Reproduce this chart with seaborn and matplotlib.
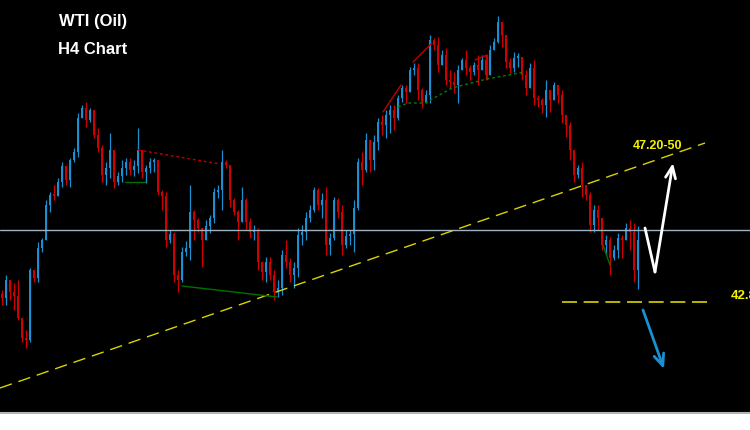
import numpy as np
import matplotlib
matplotlib.use('Agg')
import matplotlib.pyplot as plt
import pandas as pd
import seaborn as sns

# WTI H4 candles (oldest -> newest)
highs = [43.16, 43.61, 43.31, 43.37, 43.46, 42.32, 41.96, 43.82, 43.76, 44.60,
         44.72, 45.86, 46.10, 46.31, 46.52, 47.00, 46.85, 47.12, 47.42, 48.47,
         48.71, 48.80, 48.62, 48.20, 48.02, 47.51, 47.00, 47.87, 47.30, 46.70,
         47.06, 47.12, 47.12, 47.06, 48.02, 47.36, 46.91, 47.12, 47.12, 47.00,
         46.16, 46.10, 44.96, 44.90, 43.76, 44.45, 44.63, 46.31, 45.56, 45.32,
         45.02, 45.26, 45.41, 46.22, 46.31, 47.36, 47.06, 46.91, 45.92, 45.56,
         46.25, 45.92, 45.32, 45.11, 45.02, 44.00, 44.15, 44.15, 43.76, 43.46,
         44.36, 44.66, 44.12, 44.00, 45.02, 45.11, 45.50, 45.71, 46.25, 46.22,
         46.07, 46.25, 44.87, 45.95, 45.92, 45.71, 44.96, 44.96, 45.86, 47.12,
         47.30, 47.87, 47.66, 47.81, 48.32, 48.41, 48.56, 48.71, 48.71, 49.01,
         49.31, 49.31, 49.85, 49.97, 49.97, 49.22, 49.16, 50.81, 50.72, 50.75,
         50.36, 50.42, 49.76, 49.70, 49.91, 50.12, 50.36, 49.91, 50.00, 50.21,
         50.21, 50.21, 50.51, 50.72, 51.38, 51.02, 50.60, 50.12, 50.30, 50.27,
         50.06, 49.76, 49.97, 50.06, 49.01, 48.92, 49.46, 49.16, 49.40, 49.31,
         49.16, 48.32, 48.20, 47.21, 46.91, 47.00, 46.31, 46.10, 45.71, 45.71,
         44.96, 44.81, 44.75, 44.51, 44.87, 44.81, 45.17, 45.26, 45.17, 45.08]
lows = [42.71, 42.71, 42.86, 42.56, 42.26, 41.60, 41.42, 41.60, 43.40, 43.40,
        44.30, 44.96, 45.50, 45.86, 46.01, 46.25, 46.31, 46.25, 47.00, 47.15,
        48.32, 48.05, 48.20, 47.72, 47.30, 46.40, 46.31, 46.52, 46.22, 46.31,
        46.40, 46.61, 46.61, 46.58, 46.67, 46.52, 46.37, 46.67, 46.70, 46.01,
        45.56, 44.45, 44.57, 43.40, 43.10, 43.40, 44.18, 44.06, 44.66, 44.90,
        43.85, 44.66, 44.87, 45.17, 45.92, 45.56, 46.82, 45.65, 45.41, 44.66,
        45.20, 44.96, 44.72, 44.66, 43.76, 43.46, 43.40, 43.46, 42.86, 42.95,
        43.01, 43.82, 43.40, 43.22, 43.55, 44.51, 44.66, 45.20, 45.50, 45.56,
        45.32, 44.21, 44.21, 44.66, 45.32, 44.21, 44.42, 44.51, 44.30, 45.56,
        46.31, 46.70, 46.70, 46.76, 47.36, 47.81, 47.72, 47.87, 47.96, 48.26,
        48.80, 48.77, 49.16, 49.61, 48.86, 48.62, 48.77, 48.77, 50.36, 49.70,
        49.91, 49.31, 49.22, 49.07, 48.77, 49.76, 49.61, 49.46, 49.61, 49.31,
        49.76, 49.46, 49.82, 50.36, 50.57, 50.45, 49.82, 49.67, 49.70, 49.85,
        49.46, 49.01, 49.31, 48.71, 48.65, 48.47, 48.35, 48.50, 48.86, 48.77,
        48.17, 47.75, 47.06, 46.40, 46.52, 45.95, 45.86, 44.90, 44.90, 44.96,
        44.36, 44.21, 43.61, 44.06, 44.12, 44.12, 44.66, 44.36, 43.40, 43.19]
closes = [42.92, 43.46, 43.10, 42.98, 42.32, 41.72, 41.66, 43.76, 43.52, 44.42,
          44.66, 45.71, 46.01, 45.98, 46.40, 46.88, 46.46, 47.06, 47.30, 48.32,
          48.62, 48.26, 48.56, 47.81, 47.42, 46.61, 46.82, 47.36, 46.40, 46.58,
          46.82, 47.00, 46.76, 46.88, 47.36, 46.70, 46.82, 47.00, 47.06, 46.10,
          45.98, 44.66, 44.84, 43.61, 43.46, 44.30, 44.42, 45.50, 45.26, 45.02,
          44.66, 45.08, 45.32, 46.10, 46.16, 47.00, 46.91, 45.86, 45.50, 45.20,
          45.86, 45.20, 44.90, 44.96, 44.00, 43.70, 44.00, 43.61, 43.10, 43.22,
          44.21, 44.00, 43.61, 43.82, 44.81, 44.90, 45.32, 45.56, 46.16, 45.71,
          45.86, 44.51, 44.72, 45.86, 45.50, 44.51, 44.78, 44.84, 45.62, 47.00,
          46.76, 47.66, 47.06, 47.60, 48.20, 48.11, 48.41, 48.56, 48.32, 48.92,
          49.22, 49.10, 49.76, 49.82, 49.16, 48.80, 49.01, 50.66, 50.51, 49.91,
          50.21, 49.46, 49.40, 49.31, 49.76, 50.06, 49.82, 49.70, 49.91, 49.76,
          50.06, 49.61, 50.36, 50.60, 51.20, 50.81, 50.00, 49.82, 50.12, 50.15,
          49.61, 49.22, 49.82, 48.92, 48.86, 48.71, 49.16, 48.86, 49.31, 49.01,
          48.41, 48.11, 47.36, 46.61, 46.82, 46.31, 46.01, 45.11, 45.56, 45.32,
          44.51, 44.66, 44.12, 44.36, 44.72, 44.66, 45.02, 44.90, 43.76, 44.66]
first_open = 43.05

# drawn objects (x = candle index, y = price)
trend_x = [-0.5, 175.75]
trend_y = [40.22, 47.57]
pivot_price = 44.96
support_x = [140, 176.5]
support_price = 42.80
red_dots_x = [34, 54.5]
red_dots_y = [47.36, 46.94]
red_legs = [([95.25, 99.75], [48.50, 49.31]),
            ([102.75, 107.5], [50.00, 50.57]),
            ([118.25, 121.25], [50.06, 50.21]),
            ([121.25, 121.25], [50.21, 49.49])]
green_legs = [([30.75, 35.75], [46.40, 46.40]),
              ([45.0, 68.75], [43.28, 42.95]),
              ([150.25, 152.0], [44.51, 43.91])]
green_dash_x = [99, 101.5, 105.75, 112.5, 121.25, 130.75]
green_dash_y = [48.65, 48.77, 48.77, 49.22, 49.49, 49.70]
up_path_x = [160.75, 163.25, 167.75]
up_path_y = [45.02, 43.70, 46.97]
down_path_x = [160.25, 165.5]
down_path_y = [42.56, 40.79]
target_label = '47.20-50'
target_pos = (157.75, 47.48)
support_label = '42.80'
support_pos = (182.25, 42.98)

BLUE = '#1a8fd2'
RED = '#d00000'
YELLOW = '#d8d400'

sns.set_theme(style='dark', rc={'axes.facecolor': 'black', 'figure.facecolor': 'white'})
plt.rcParams['font.family'] = ['Liberation Sans', 'DejaVu Sans']

candles = pd.DataFrame({'high': highs, 'low': lows, 'close': closes})
candles['open'] = [first_open] + closes[:-1]
idx = np.arange(len(candles))
body_lo = candles[['open', 'close']].min(axis=1)
body_hi = candles[['open', 'close']].max(axis=1)
colors = np.where(candles['close'] >= candles['open'], BLUE, RED)

fig = plt.figure(figsize=(7.5, 4.3), dpi=100)
ax = fig.add_axes([0, 17 / 430, 1, 413 / 430])
ax.set_facecolor('black')

# candles
ax.vlines(idx, np.minimum(candles['low'], body_lo), np.maximum(candles['high'], body_hi),
          colors=colors, lw=0.9)
ax.bar(idx, np.maximum(body_hi - body_lo, 0.05), bottom=body_lo, width=0.7,
       color=colors, linewidth=0)

# lines
ax.axhline(pivot_price, color='#9fb2c4', lw=1)
sns.lineplot(x=trend_x, y=trend_y, ax=ax, color=YELLOW, lw=1, linestyle=(0, (9, 5)))
sns.lineplot(x=support_x, y=[support_price] * 2, ax=ax, color=YELLOW, lw=1.2,
             linestyle=(0, (9, 4)))
sns.lineplot(x=red_dots_x, y=red_dots_y, ax=ax, color='#c00000', lw=1, linestyle=(0, (2, 2)))
for lx, ly in red_legs:
    ax.plot(lx, ly, color='#c00000', lw=1)
for lx, ly in green_legs:
    ax.plot(lx, ly, color='#007000', lw=1)
ax.plot(green_dash_x, green_dash_y, color='#008000', lw=1, linestyle=(0, (2, 2)))

# arrows
ax.plot(up_path_x[:2], up_path_y[:2], color='white', lw=2)
ax.annotate('', xy=(up_path_x[2], up_path_y[2]), xytext=(up_path_x[1], up_path_y[1]),
            arrowprops=dict(arrowstyle='->,head_length=0.7,head_width=0.3', color='white',
                            lw=2, shrinkA=0, shrinkB=0))
ax.annotate('', xy=(down_path_x[1], down_path_y[1]), xytext=(down_path_x[0], down_path_y[0]),
            arrowprops=dict(arrowstyle='->,head_length=0.7,head_width=0.3', color=BLUE,
                            lw=2, shrinkA=0, shrinkB=0))

# labels
ax.text(*target_pos, target_label, color='#f2f200', fontsize=9, fontweight='bold',
        ha='left', va='center')
ax.text(*support_pos, support_label, color='#f2f200', fontsize=9.5, fontweight='bold',
        ha='left', va='center')
ax.text(0.079, 0.949, 'WTI (Oil)', transform=ax.transAxes, color='white', fontsize=12,
        fontweight='bold', va='center')
ax.text(0.077, 0.881, 'H4 Chart', transform=ax.transAxes, color='white', fontsize=12,
        fontweight='bold', va='center')

ax.set_xlim(-0.5, 187)
ax.set_ylim(39.47, 51.86)
ax.set_xticks([])
ax.set_yticks([])
ax.set_xlabel('')
ax.set_ylabel('')
ax.grid(False)
for side in ['top', 'left', 'right']:
    ax.spines[side].set_visible(False)
ax.spines['bottom'].set_color('#b4b4b4')
ax.spines['bottom'].set_linewidth(1.5)

fig.savefig('out.png', dpi=100, facecolor='white')
